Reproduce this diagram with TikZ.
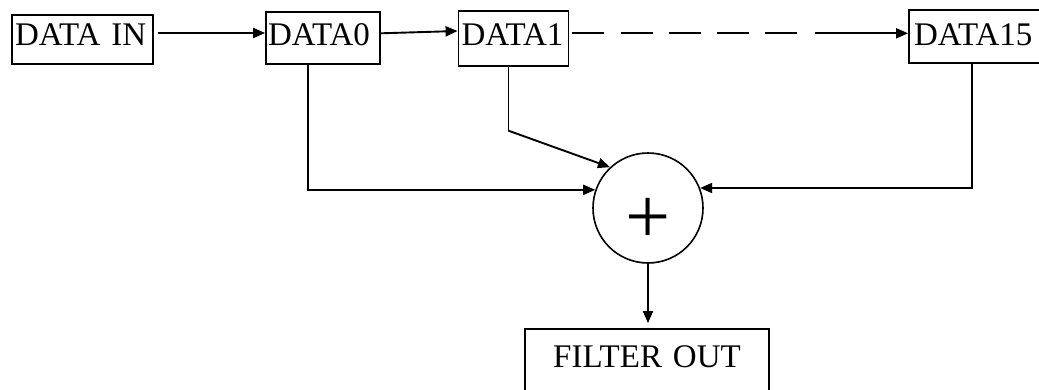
\documentclass[tikz,border=0pt]{standalone}
\usepackage{fontspec}
\setmainfont{Liberation Serif}
\usetikzlibrary{arrows.meta}
\begin{document}
\begin{tikzpicture}[x=1pt,y=-1pt,
  every node/.style={font=\fontsize{33}{38}\selectfont},
  boxnode/.style={draw,line width=1.8pt,inner ysep=0pt,inner xsep=3pt,align=left,text height=23pt},
  conn/.style={line width=1.9pt},
  arr/.style={conn,-{Triangle[length=12pt,width=10pt]}}]
\useasboundingbox (0,0) rectangle (1039,389);
\node[boxnode,text width=135pt,minimum height=49pt,text depth=12pt] (datain) at (82.5,39.5) {DATA IN};
\node[boxnode,text width=108pt,minimum height=52pt,text depth=9pt,inner xsep=2pt,text width=110pt] (data0) at (323,38) {DATA0};
\node[boxnode,text width=104pt,minimum height=55pt,text depth=10pt] (data1) at (513.5,38.5) {DATA1};
\node[boxnode,minimum height=53pt,text depth=6pt,inner xsep=5pt,text width=126pt] (data15) at (977,36.5) {DATA15};
\node[boxnode,align=center,text width=238pt,minimum height=80pt,text depth=27pt] (filterout) at (647,369) {FILTER OUT};
\node[draw,circle,line width=1.6pt,minimum size=110pt,inner sep=0pt,
      font=\fontsize{80}{80}\selectfont,text height=73pt,text depth=2pt] (sum) at (648,208) {+};
\coordinate (dashend) at (797,33.3);
\coordinate (solidstart) at (815,33.3);
\coordinate (bend1) at (508.5,130.7);
\draw[arr,shorten <=4pt] ([yshift=6.5pt]datain.east) -- ([yshift=5pt]data0.west);
\draw[arr] ([yshift=4.7pt]data0.east) -- ([yshift=7.5pt]data1.west);
\draw[conn,dash pattern=on 32pt off 16.25pt,dash phase=45.25pt] ([yshift=5.2pt]data1.east) -- (dashend);
\draw[arr] (solidstart) -- ([yshift=3.2pt]data15.west);
\draw[arr] ([xshift=-15pt]data0.south) |- (sum.161);
\draw[conn] ([xshift=-5pt]data1.south) -- (bend1);
\draw[arr] (bend1) -- (sum.133);
\draw[arr] ([xshift=-5pt]data15.south) |- (sum.21);
\draw[arr,shorten >=5pt] (sum.south) -- (sum.south |- filterout.north);
\end{tikzpicture}
\end{document}
